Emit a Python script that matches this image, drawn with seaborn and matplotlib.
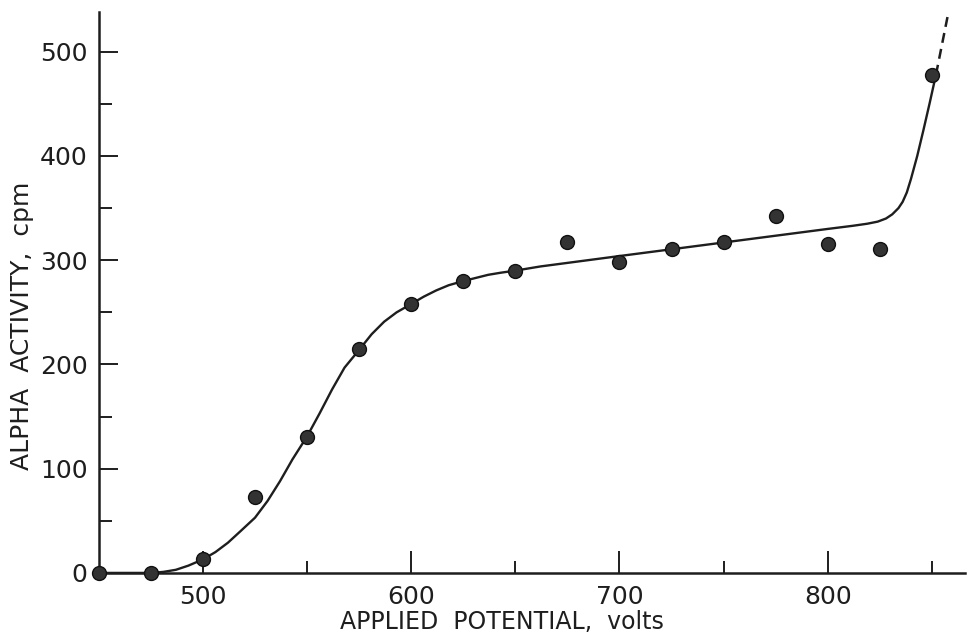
import numpy as np
import pandas as pd
import matplotlib
matplotlib.use("Agg")
import matplotlib.pyplot as plt
import seaborn as sns
from matplotlib.ticker import MultipleLocator

# Measured points (applied potential in volts, alpha activity in cpm)
volts = [450, 475, 500, 525, 550, 575, 600, 625, 650, 675, 700, 725, 750, 775, 800, 825, 850]
cpm = [0, 0, 13, 73, 130, 215, 258, 280, 290, 317, 298, 311, 317, 342, 316, 311, 478]

# Hand-drawn plateau curve
curve_volts = [450, 475, 481, 487, 493, 500, 506, 512, 518, 525, 531, 537, 543, 550, 556,
               562, 568, 575, 581, 587, 593, 600, 606, 612, 618, 625, 631, 637, 643, 650,
               662, 700, 750, 800, 812, 819, 824, 828, 831, 834, 836, 838, 840, 843, 846,
               849, 852]
curve_cpm = [0, 0, 1, 3, 7, 13, 20, 29, 40, 53, 69, 88, 109, 131, 153,
             176, 197, 214, 229, 241, 250, 258, 265, 271, 276, 280, 283, 286, 288, 290,
             294, 304, 317, 330, 333, 335, 337, 340, 344, 350, 356, 365, 378, 400, 425,
             451, 478]

# Extrapolated (dashed) part above the last point
dash_volts = [852, 858]
dash_cpm = [478, 538]

sns.set_style("ticks")
plt.rcParams['font.family'] = ['DejaVu Sans']

fig = plt.figure(figsize=(9.69, 6.38), dpi=100)
ax = fig.add_axes([0.102, 0.102, 0.894, 0.879])

ink = "#1e1e1e"
curve = pd.DataFrame({"volts": curve_volts, "cpm": curve_cpm})
sns.lineplot(data=curve, x="volts", y="cpm", ax=ax, color=ink, linewidth=1.7,
             sort=False, estimator=None, clip_on=False)
dash = pd.DataFrame({"volts": dash_volts, "cpm": dash_cpm})
sns.lineplot(data=dash, x="volts", y="cpm", ax=ax, color=ink, linewidth=1.8,
             linestyle=(0, (4, 2.5)), sort=False, estimator=None, clip_on=False)

pts = pd.DataFrame({"volts": volts, "cpm": cpm})
sns.scatterplot(data=pts, x="volts", y="cpm", ax=ax, s=100, color="#333333",
                edgecolor="#111111", linewidth=1.0, zorder=5, clip_on=False)

ax.set_xlim(450, 866)
ax.set_ylim(0, 538)
ax.yaxis.set_major_locator(MultipleLocator(100))
ax.yaxis.set_minor_locator(MultipleLocator(50))
ax.set_xticks([500, 600, 700, 800])
ax.set_xticks([550, 650, 750, 850], minor=True)

sns.despine(ax=ax)
for side in ["left", "bottom"]:
    ax.spines[side].set_linewidth(1.8)
    ax.spines[side].set_color(ink)

ax.tick_params(axis="x", which="major", direction="in", length=16, width=1.4,
               labelsize=18, pad=9, colors=ink)
ax.tick_params(axis="y", which="major", direction="in", length=14, width=1.4,
               labelsize=18, pad=8, colors=ink)
ax.tick_params(which="minor", direction="in", length=9, width=1.4, colors=ink)

ax.set_xlabel("APPLIED  POTENTIAL,  volts", fontsize=17, color=ink)
ax.set_ylabel("ALPHA  ACTIVITY,  cpm", fontsize=18, color=ink)
ax.xaxis.set_label_coords(0.465, -0.066)
ax.yaxis.set_label_coords(-0.075, 0.44)

fig.savefig("out.png", dpi=100, facecolor="white")
